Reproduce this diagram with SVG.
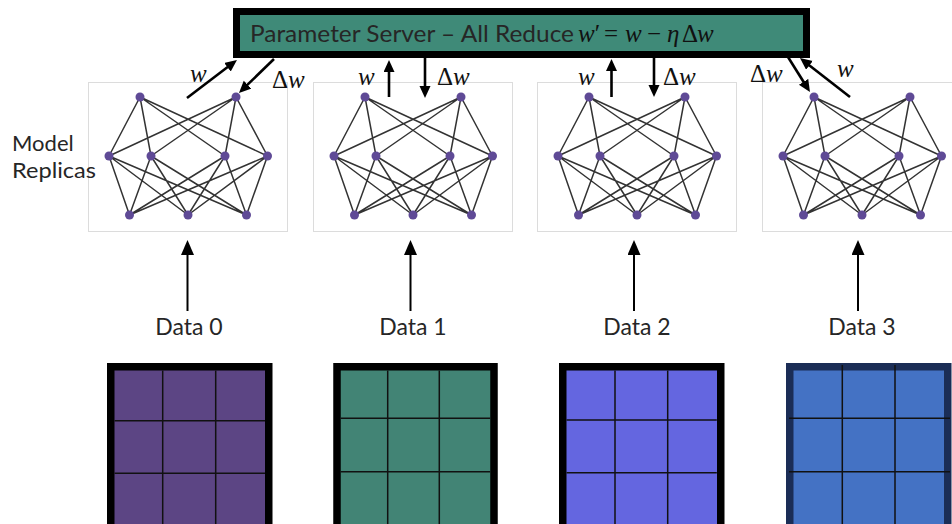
<svg xmlns="http://www.w3.org/2000/svg" xmlns:xlink="http://www.w3.org/1999/xlink" width="952" height="524" viewBox="0 0 952 524">
  <style>
    .sans { font-family: Lato, "Open Sans", "Liberation Sans", sans-serif; fill: #262626; }
    .math { font-family: "Liberation Serif", "DejaVu Serif", serif; font-style: italic; fill: #111; }
    .up { font-style: normal; }
    .panel { fill: #fff; stroke: #dcdcdc; stroke-width: 1; }
    .edge { stroke: #333; stroke-width: 1.5; fill: none; }
    .neuron { fill: #5f4a96; }
    .flow { stroke: #000; stroke-width: 2.6; fill: none; marker-end: url(#head); }
    .feed { stroke: #000; stroke-width: 2; fill: none; marker-end: url(#headData); }
    .cellline { stroke: #111; stroke-width: 1.5; }
  </style>
  <defs>
    <marker id="head" markerUnits="userSpaceOnUse" markerWidth="13" markerHeight="12" refX="4" refY="5.5" orient="auto">
      <path d="M0,0 L12,5.5 L0,11 z" fill="#000"/>
    </marker>
    <marker id="headData" markerUnits="userSpaceOnUse" markerWidth="16" markerHeight="14" refX="5" refY="6.5" orient="auto">
      <path d="M0,0 L15,6.5 L0,13 z" fill="#000"/>
    </marker>
    <!-- one replica: 2-4-3 fully connected network inside a light frame -->
    <g id="net">
      <rect class="panel" x="0.5" y="0.5" width="199" height="149"/>
      <path class="edge" d="M52 15L21 74M52 15L63 74M52 15L137 74M52 15L179.5 74
        M148 15L21 74M148 15L63 74M148 15L137 74M148 15L179.5 74
        M21 74L41.5 133M21 74L100 133M21 74L158.5 133
        M63 74L41.5 133M63 74L100 133M63 74L158.5 133
        M137 74L41.5 133M137 74L100 133M137 74L158.5 133
        M179.5 74L41.5 133M179.5 74L100 133M179.5 74L158.5 133"/>
      <g class="neuron">
        <circle cx="52" cy="15" r="4.5"/><circle cx="148" cy="15" r="4.5"/>
        <circle cx="21" cy="74" r="4.5"/><circle cx="63" cy="74" r="4.5"/>
        <circle cx="137" cy="74" r="4.5"/><circle cx="179.5" cy="74" r="4.5"/>
        <circle cx="41.5" cy="133" r="4.5"/><circle cx="100" cy="133" r="4.5"/>
        <circle cx="158.5" cy="133" r="4.5"/>
      </g>
    </g>
  </defs>

  <rect width="952" height="524" fill="#fff"/>

  <!-- replicas -->
  <g id="replica0"><use xlink:href="#net" transform="translate(88,82)"/></g>
  <g id="replica1"><use xlink:href="#net" transform="translate(313,82)"/></g>
  <g id="replica2"><use xlink:href="#net" transform="translate(537,82)"/></g>
  <g id="replica3"><use xlink:href="#net" transform="translate(762,82)"/></g>

  <g id="label-replicas">
    <text class="sans" x="12" y="151" font-size="22">Model</text>
    <text class="sans" x="12" y="178" font-size="22" textLength="84" lengthAdjust="spacingAndGlyphs">Replicas</text>
  </g>

  <!-- parameter server -->
  <g id="server">
    <rect x="236.5" y="11.5" width="570" height="43" fill="#3f8a78" stroke="#000" stroke-width="7"/>
    <text class="sans" x="250" y="42" font-size="24" fill="#161616" textLength="324" lengthAdjust="spacingAndGlyphs">Parameter Server – All Reduce</text>
    <text class="math" y="42" font-size="25">
      <tspan x="578">w</tspan><tspan class="up">′</tspan>
      <tspan class="up" x="604">=</tspan>
      <tspan x="625">w</tspan>
      <tspan class="up" x="647">−</tspan>
      <tspan x="667">η</tspan><tspan class="up" x="682">Δ</tspan><tspan x="697">w</tspan>
    </text>
  </g>

  <!-- data sources -->
  <g id="data0">
    <text class="sans" x="189" y="335" font-size="23" text-anchor="middle">Data 0</text>
    <rect x="110.75" y="366.75" width="158" height="180" fill="#5c4584" stroke="#000" stroke-width="7.5"/>
    <path class="cellline" d="M162.7 370.5V530M215.7 370.5V530M114.5 420.7H265M114.5 473.3H265"/>
  </g>
  <g id="data1">
    <text class="sans" x="413" y="335" font-size="23" text-anchor="middle">Data 1</text>
    <rect x="337" y="366.75" width="157" height="180" fill="#428475" stroke="#000" stroke-width="7.5"/>
    <path class="cellline" d="M387.7 370.5V530M439.3 370.5V530M340.75 418.3H490.3M340.75 471.7H490.3"/>
  </g>
  <g id="data2">
    <text class="sans" x="637" y="335" font-size="23" text-anchor="middle">Data 2</text>
    <rect x="562.75" y="366.75" width="158" height="180" fill="#6466e0" stroke="#000" stroke-width="7.5"/>
    <path class="cellline" d="M615 370.5V530M667.7 370.5V530M566.5 420H716.8M566.5 472.7H716.8"/>
  </g>
  <g id="data3">
    <text class="sans" x="862" y="335" font-size="23" text-anchor="middle">Data 3</text>
    <rect x="789.75" y="366.75" width="158" height="180" fill="#4472c4" stroke="#1b2d56" stroke-width="7.5"/>
    <path class="cellline" stroke-width="2" d="M842.3 365V530M895 365V530M789 418.3H950M789 471.7H950"/>
  </g>

  <!-- connectors -->
  <g id="connectors">
    <line class="flow" x1="187" y1="98" x2="230.6" y2="64.8"/>
    <line class="flow" x1="274" y1="59" x2="244.7" y2="87.4"/>
    <line class="flow" x1="389" y1="97" x2="389" y2="68"/>
    <line class="flow" x1="425" y1="58" x2="425" y2="90"/>
    <line class="flow" x1="611.5" y1="97" x2="611.5" y2="67"/>
    <line class="flow" x1="654" y1="58" x2="654" y2="89"/>
    <line class="flow" x1="788" y1="57" x2="805.7" y2="85.2"/>
    <line class="flow" x1="850" y1="97" x2="806.3" y2="62.9"/>

    <line class="feed" x1="187.5" y1="311" x2="187.5" y2="250"/>
    <line class="feed" x1="410.5" y1="311" x2="410.5" y2="250"/>
    <line class="feed" x1="634" y1="311" x2="634" y2="250"/>
    <line class="feed" x1="858" y1="311" x2="858" y2="250"/>
  </g>

  <!-- gradient / weight labels -->
  <g id="flow-labels" class="math" font-size="25">
    <text x="190" y="82">w</text>
    <text x="272" y="88"><tspan class="up">Δ</tspan>w</text>
    <text x="358" y="85">w</text>
    <text x="437" y="85"><tspan class="up">Δ</tspan>w</text>
    <text x="578" y="85">w</text>
    <text x="663" y="85"><tspan class="up">Δ</tspan>w</text>
    <text x="750" y="82"><tspan class="up">Δ</tspan>w</text>
    <text x="837" y="77">w</text>
  </g>
</svg>
